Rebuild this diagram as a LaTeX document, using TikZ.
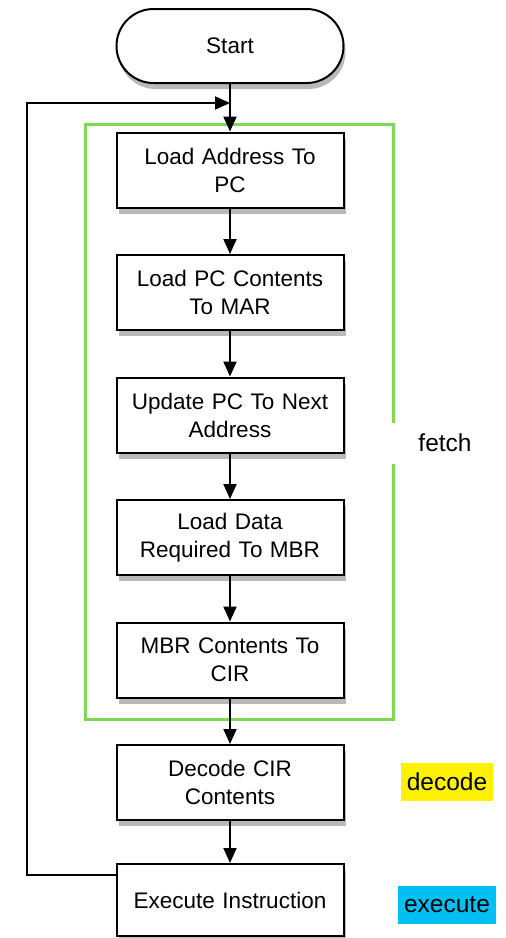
\documentclass[tikz,border=0pt]{standalone}
\usepackage{fontspec}
\setmainfont{Liberation Sans}
\usepackage{tikz}
\usetikzlibrary{positioning}
\usetikzlibrary{arrows.meta}
\usetikzlibrary{shadows}

\definecolor{fetchgreen}{RGB}{126,217,87}
\definecolor{execcyan}{RGB}{0,191,243}

\begin{document}
\begin{tikzpicture}[x=1pt, y=-1pt, node distance=45.5pt,
        box/.style={draw, line width=2pt, fill=white, minimum width=227pt,
            minimum height=75pt, text width=215pt, align=center,
            font=\fontsize{22.5}{28}\selectfont,
            drop shadow={opacity=0.55, shadow xshift=2pt, shadow yshift=-6pt}},
        terminal/.style={box, rounded corners=37pt, minimum height=74pt},
        flow/.style={line width=2pt, -{Triangle[length=15pt, width=13pt]}},
        stage/.style={font=\fontsize{24.5}{28}\selectfont, minimum height=38pt}]
    \useasboundingbox (0,0) rectangle (506,938);

    \draw[fetchgreen, line width=3pt] (85,124) rectangle (393,719);

    \node[terminal] (start) at (230,46) {Start};
    \node[box] (b1) at (230,170) {Load Address To\\PC};
    \node[box, below=of b1] (b2) {Load PC Contents\\To MAR};
    \node[box, below=of b2] (b3) {Update PC To Next\\Address};
    \node[box, below=of b3] (b4) {Load Data\\Required To MBR};
    \node[box, below=of b4] (b5) {MBR Contents To\\CIR};
    \node[box, below=of b5] (b6) {Decode CIR\\Contents};
    \node[box, below=42pt of b6, minimum height=72pt] (b7) {Execute Instruction};

    \node[stage, fill=white, minimum width=112pt, minimum height=41pt] (fetch) at (445,443) {fetch};
    \node[stage, fill=yellow, minimum width=92pt] (decode) at (447,782) {decode};
    \node[stage, fill=execcyan, minimum width=98pt] (execute) at (447,905) {execute};

    \coordinate (back) at (27,103);
    \coordinate (merge) at (230,103);

    \draw[flow] (start) -- (b1);
    \draw[flow] (b1) -- (b2);
    \draw[flow] (b2) -- (b3);
    \draw[flow] (b3) -- (b4);
    \draw[flow] (b4) -- (b5);
    \draw[flow] (b5) -- (b6);
    \draw[flow] (b6) -- (b7);
    \draw[flow] ([yshift=-12pt]b7.north west) -| (back) -- (merge);
\end{tikzpicture}
\end{document}
